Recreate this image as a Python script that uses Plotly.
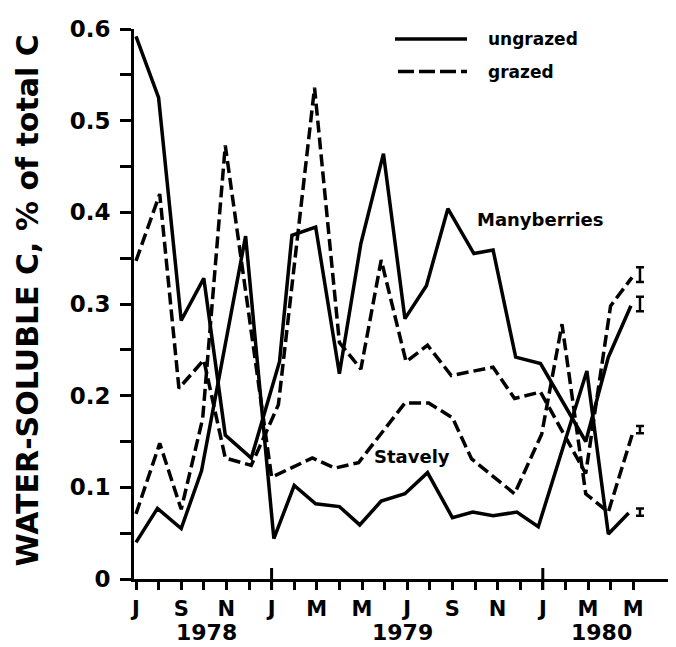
import plotly.graph_objects as go

# Month index: 0 = July 1978 ... 22 = May 1980
tick_months = list(range(0, 23))
tick_letters = ["J", "", "S", "", "N", "", "J", "", "M", "", "M", "", "J", "", "S", "", "N", "", "J", "", "M", "", "M"]
year_labels = ["1978", "1979", "1980"]
year_centers = [3.1, 11.8, 20.6]
year_starts = [6, 18]

# Manyberries, ungrazed
mu_x = [0.0, 1.0, 2.0, 3.0, 3.95, 5.1, 6.35, 6.9, 7.95, 9.0, 9.95, 10.95, 11.9, 12.85,
        13.8, 14.95, 15.8, 16.8, 17.9, 19.9, 20.9, 21.9]
mu_y = [0.592, 0.525, 0.282, 0.328, 0.157, 0.132, 0.237, 0.375, 0.384, 0.224, 0.366, 0.464,
        0.284, 0.320, 0.404, 0.355, 0.359, 0.242, 0.235, 0.150, 0.242, 0.298]

# Manyberries, grazed
mg_x = [0.0, 1.05, 1.9, 3.0, 3.95, 5.1, 6.3, 7.9, 9.0, 9.95, 10.85, 11.95, 12.9, 13.95,
        15.8, 16.75, 17.9, 19.9, 21.0, 21.95]
mg_y = [0.347, 0.420, 0.208, 0.239, 0.132, 0.124, 0.190, 0.536, 0.258, 0.229, 0.348, 0.237,
        0.255, 0.222, 0.231, 0.197, 0.204, 0.115, 0.298, 0.329]

# Stavely, ungrazed
su_x = [0.0, 0.95, 2.0, 2.9, 4.85, 6.1, 7.0, 7.95, 9.0, 9.9, 10.85, 11.9, 12.9, 14.0,
        14.9, 15.8, 16.85, 17.8, 19.95, 20.9, 21.8]
su_y = [0.040, 0.077, 0.055, 0.118, 0.374, 0.044, 0.102, 0.082, 0.079, 0.059, 0.085, 0.093,
        0.116, 0.067, 0.073, 0.069, 0.073, 0.057, 0.227, 0.049, 0.072]

# Stavely, grazed
sg_x = [0.0, 1.05, 2.0, 2.95, 3.95, 6.0, 7.8, 8.8, 9.85, 11.9, 12.95, 14.0, 14.85, 16.75,
        17.95, 18.85, 19.9, 20.9, 21.95]
sg_y = [0.071, 0.148, 0.076, 0.175, 0.473, 0.111, 0.132, 0.121, 0.127, 0.192, 0.192, 0.176,
        0.131, 0.093, 0.158, 0.278, 0.093, 0.073, 0.157]

# Significance bars at the right end
lsd_x = [22.3, 22.3, 22.3, 22.3]
lsd_y = [0.332, 0.300, 0.163, 0.073]
lsd_half = [0.008, 0.008, 0.004, 0.004]

LW = 3.5
DASH = "12px,5px"
FONT = "DejaVu Sans"

fig = go.Figure()
for xs, ys, dash in [(mu_x, mu_y, "solid"), (mg_x, mg_y, DASH),
                     (su_x, su_y, "solid"), (sg_x, sg_y, DASH)]:
    fig.add_trace(go.Scatter(x=xs, y=ys, mode="lines", showlegend=False,
                             line=dict(color="black", width=LW, dash=dash)))

fig.add_trace(go.Scatter(x=lsd_x, y=lsd_y, mode="markers", showlegend=False,
                         marker=dict(size=1, color="rgba(0,0,0,0)"),
                         error_y=dict(type="data", array=lsd_half, visible=True,
                                      color="black", thickness=2.5, width=4)))

OFF = 8  # page body margin
W, H = 676, 647
L, T = 134 - OFF, 24 - OFF
B = H - (579 - OFF)
R = W - (676 - OFF)
pw = W - L - R
ph = H - T - B

def px_x(p):
    return (p - OFF - L) / pw

def px_y(p):
    return (H - B - (p - OFF)) / ph

shapes = []
for m in year_starts:
    shapes.append(dict(type="line", xref="x", yref="paper", x0=m, x1=m,
                       y0=-0.02, y1=0.02, line=dict(color="black", width=3)))
# custom legend samples
shapes.append(dict(type="line", xref="paper", yref="paper", x0=px_x(395), x1=px_x(467),
                   y0=px_y(34), y1=px_y(34), line=dict(color="black", width=LW)))
shapes.append(dict(type="line", xref="paper", yref="paper", x0=px_x(398), x1=px_x(467),
                   y0=px_y(67), y1=px_y(67), line=dict(color="black", width=LW, dash="16px,5px")))

annotations = []
for lab, cx in zip(year_labels, year_centers):
    annotations.append(dict(text=lab, x=cx, xref="x", y=px_y(633), yref="paper",
                            showarrow=False, xanchor="center", yanchor="middle",
                            font=dict(family=FONT, size=22, color="black", weight="bold")))
annotations.append(dict(text="ungrazed", x=px_x(486), y=px_y(34), xref="paper", yref="paper",
                        showarrow=False, xanchor="left", yanchor="middle",
                        font=dict(family=FONT, size=17, color="black", weight="bold")))
annotations.append(dict(text="grazed", x=px_x(486), y=px_y(67), xref="paper", yref="paper",
                        showarrow=False, xanchor="left", yanchor="middle",
                        font=dict(family=FONT, size=17, color="black", weight="bold")))
annotations.append(dict(text="Manyberries", x=17.9, y=0.392, xref="x", yref="y",
                        showarrow=False, xanchor="center", yanchor="middle",
                        font=dict(family=FONT, size=18, color="black", weight="bold")))
annotations.append(dict(text="Stavely", x=12.2, y=0.134, xref="x", yref="y",
                        showarrow=False, xanchor="center", yanchor="middle",
                        font=dict(family=FONT, size=18, color="black", weight="bold")))
annotations.append(dict(text="WATER-SOLUBLE C, % of total C", x=px_x(28), y=px_y(298),
                        xref="paper", yref="paper", showarrow=False, textangle=-90,
                        xanchor="center", yanchor="middle",
                        font=dict(family=FONT, size=30, color="black", weight="bold")))

yt_vals = [i * 0.05 for i in range(13)]
yt_text = ["0" if i == 0 else (f"{i*0.05:.1f}" if i % 2 == 0 else "") for i in range(13)]

fig.update_layout(
    width=W, height=H,
    margin=dict(l=L, r=R, t=T, b=B, pad=0),
    paper_bgcolor="white", plot_bgcolor="white",
    shapes=shapes, annotations=annotations,
    xaxis=dict(range=[-2 / 22.6, (676 - 136) / 22.6], tickvals=tick_months, ticktext=tick_letters,
               ticks="outside", ticklen=8, tickwidth=3, tickcolor="black", ticklabelstandoff=1,
               showline=True, linecolor="black", linewidth=3, showgrid=False, zeroline=False,
               tickfont=dict(family=FONT, size=21, color="black", weight="bold")),
    yaxis=dict(range=[0, 0.6], tickvals=yt_vals, ticktext=yt_text,
               ticks="outside", ticklen=11, tickwidth=3, tickcolor="black", ticklabelstandoff=5,
               showline=True, linecolor="black", linewidth=3, showgrid=False, zeroline=False,
               tickfont=dict(family=FONT, size=23, color="black", weight="bold")),
)

fig.write_html("out.html")
